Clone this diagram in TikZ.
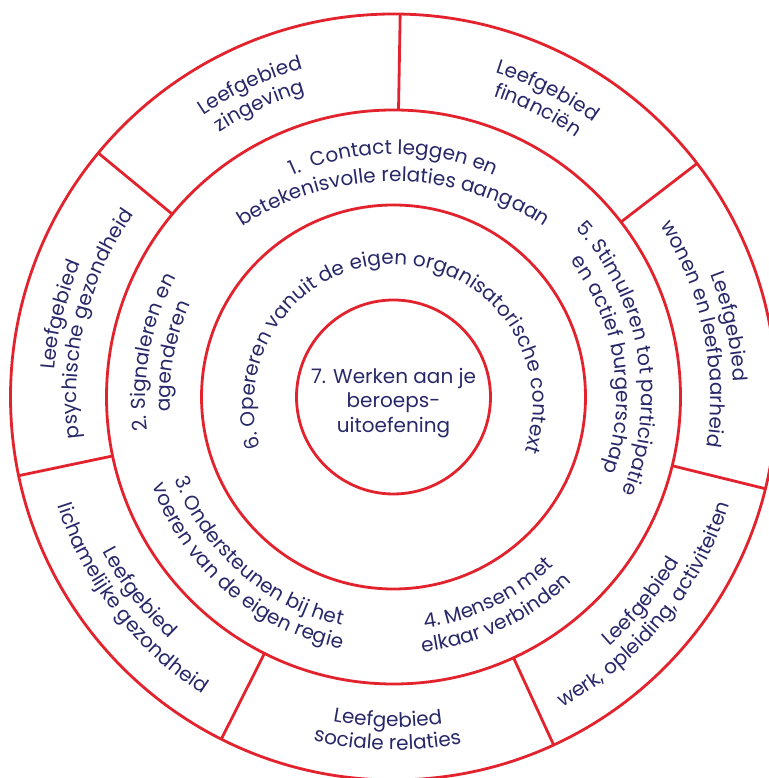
\documentclass[tikz,border=0pt]{standalone}
\usepackage{fontspec}
\setmainfont{Poppins}
\usetikzlibrary{decorations.text}

\definecolor{ringred}{RGB}{226,35,45}
\definecolor{labelblue}{RGB}{40,40,105}
\newcommand{\lblfont}{\fontsize{20}{24}\selectfont\color{labelblue}}

% text on a clockwise arc (upper half) and on an anticlockwise arc (lower half)
\newcommand{\topline}[4]{\path[decorate, decoration={text along path, text align=center, text={|\lblfont|#4}}] ([shift={(#2+140:#3)}]#1) arc[start angle=#2+140, end angle=#2-140, radius=#3];}
\newcommand{\botline}[4]{\path[decorate, decoration={text along path, text align=center, text={|\lblfont|#4}}] ([shift={(#2-140:#3)}]#1) arc[start angle=#2-140, end angle=#2+140, radius=#3];}

\begin{document}
\begin{tikzpicture}[x=1pt, y=1pt, ring/.style={draw=ringred, line width=2.8pt}]
        \useasboundingbox (0,0) rectangle (768,778);
        \coordinate (c) at (393.5,381);
        \coordinate (c1) at (393.5,321);
        \coordinate (c6) at (393.5,374);

        % Rings
        \draw[ring] (c) circle[radius=383];
        \draw[ring] (c) circle[radius=287];
        \draw[ring] (c) circle[radius=192];
        \draw[ring] (c) circle[radius=97];

        % Outer ring split in seven
        \foreach \k in {0,...,6}
                \draw[ring] ([shift={(89+51.4286*\k:287)}]c) -- ([shift={(89+51.4286*\k:383)}]c);

        % Outer ring labels
        \topline{c}{114.71}{340}{Leefgebied}
        \topline{c}{114.71}{317}{zingeving}
        \topline{c}{166.14}{340}{Leefgebied}
        \topline{c}{166.14}{317}{psychische gezondheid}
        \botline{c}{217.57}{330}{Leefgebied}
        \botline{c}{217.57}{353}{lichamelijke gezondheid}
        \botline{c}{269}{330}{Leefgebied}
        \botline{c}{269}{353}{sociale relaties}
        \botline{c}{320.43}{330}{Leefgebied}
        \botline{c}{320.43}{353}{werk, opleiding, activiteiten}
        \topline{c}{11.86}{340}{Leefgebied}
        \topline{c}{11.86}{317}{wonen en leefbaarheid}
        \topline{c}{63.29}{340}{Leefgebied}
        \topline{c}{63.29}{317}{financiën}

        % Middle ring
        \topline{c}{90}{243}{1.{\ \ }Contact leggen en}
        \topline{c1}{90}{275.5}{betekenisvolle relaties aangaan}
        \topline{c}{169.5}{248}{2. Signaleren en}
        \topline{c}{169.5}{223}{agenderen}
        \botline{c}{229}{234}{3. Ondersteunen bij het}
        \botline{c}{229.3}{257}{voeren van de eigen regie}
        \botline{c}{295.6}{233}{4. Mensen met}
        \botline{c}{295.2}{257}{elkaar verbinden}
        \topline{c}{10}{248}{5. Stimuleren tot participatie}
        \topline{c}{9}{223}{en actief burgerschap}

        % Inner ring
        \topline{c6}{89.2}{139.5}{6. Opereren vanuit de eigen organisatorische context}

        % Centre
        \node[font=\fontsize{20}{24.7}\selectfont, text=labelblue, align=center] (core) at (393.5,375) {7. Werken aan je\\beroeps-\\uitoefening};
\end{tikzpicture}
\end{document}
